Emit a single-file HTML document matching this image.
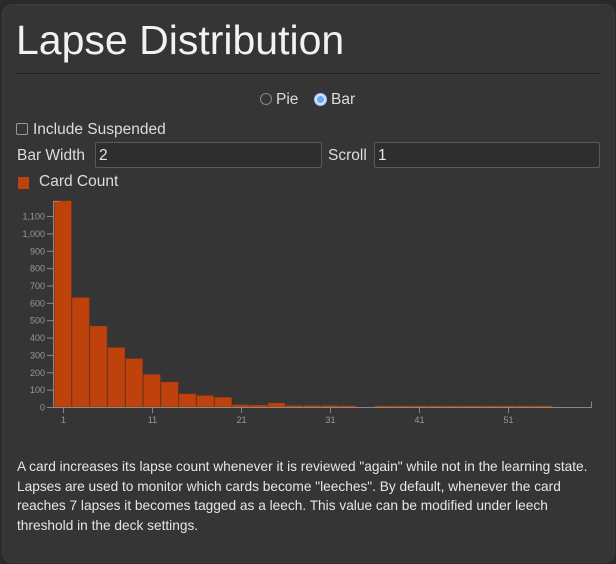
<!DOCTYPE html>
<html><head><meta charset="utf-8"><style>
html,body{margin:0;padding:0;background:#2a2a2a;width:616px;height:564px;overflow:hidden;font-family:"Liberation Sans",sans-serif;color:#ddd}
.panel{position:absolute;left:2px;top:4px;width:611px;height:557px;background:#353535;border-radius:10px;border:1px solid #3c3c3c}
.abs{position:absolute;white-space:nowrap}
.box{position:absolute;border:1px solid #5a5a5a;background:#2e2e2e;border-radius:2px;height:26px;color:#e6e6e6;font-size:15.5px;line-height:26px;padding-left:3px;box-sizing:border-box}
</style></head><body>
<div class="panel"></div>
<div class="abs" style="left:16px;top:17px;font-size:41px;color:#f2f2f2;">Lapse Distribution</div>
<div class="abs" style="left:15px;top:73px;width:585px;height:1px;background:#1f1f1f"></div>

<div class="abs" style="left:260px;top:93px;width:12px;height:12px;border-radius:50%;border:1px solid #888;box-sizing:border-box"></div>
<div class="abs" style="left:276px;top:91px;font-size:15.5px;">Pie</div>
<div class="abs" style="left:314px;top:93px;width:13px;height:13px;border-radius:50%;border:1px solid #9cc3ee;background:#cfe2fa;box-sizing:border-box"><div style="position:absolute;left:2px;top:2px;width:7px;height:7px;border-radius:50%;background:#6aa7f0"></div></div>
<div class="abs" style="left:331px;top:91px;font-size:15.5px;">Bar</div>

<div class="abs" style="left:16px;top:123px;width:12px;height:12px;border:1px solid #999;border-radius:2px;box-sizing:border-box"></div>
<div class="abs" style="left:33px;top:121px;font-size:15.5px;">Include Suspended</div>
<div class="abs" style="left:17px;top:147px;font-size:15.5px;">Bar Width</div>
<div class="box" style="left:95px;top:142px;width:227px;">2</div>
<div class="abs" style="left:328px;top:147px;font-size:15.5px;">Scroll</div>
<div class="box" style="left:374px;top:142px;width:226px;">1</div>
<div class="abs" style="left:18px;top:177px;width:11px;height:12px;background:#bf410b"></div>
<div class="abs" style="left:39px;top:173px;font-size:15.5px;">Card Count</div>

<svg class="abs" style="left:0;top:0" width="616" height="564">
<g fill="#bf410b" stroke="#a8380a" stroke-width="0.5" id="bars"></g>
<g stroke="#888" fill="none" stroke-width="1">
<path d="M59.5,201.5H53.5V407.5H59.5"/>
<path d="M53.5,407.5H591.5V401.5"/>
</g>
<g id="ticks" stroke="#888"></g>
<g id="labels" fill="#999" font-size="9" font-family="Liberation Sans,sans-serif"></g>
</svg>

<div class="abs" style="left:17px;top:457px;font-size:13.7px;line-height:19.5px;color:#e6e6e6;white-space:normal;width:590px">A card increases its lapse count whenever it is reviewed "again" while not in the learning state. Lapses are used to monitor which cards become "leeches". By default, whenever the card reaches 7 lapses it becomes tagged as a leech. This value can be modified under leech threshold in the deck settings.</div>

<script>
var ns="http://www.w3.org/2000/svg";
var vals=[1187,630,465,342,278,187,143,75,65,55,12,10,22,8,8,8,5,0,2,5,2,1,1,1,1,1,1,1];
var b=document.getElementById("bars"),t=document.getElementById("ticks"),l=document.getElementById("labels");
var k=0.1736;
vals.forEach(function(v,i){if(!v)return;var h=Math.max(v*k,1);var r=document.createElementNS(ns,"rect");
r.setAttribute("x",54.5+i*17.8);r.setAttribute("y",407-h);r.setAttribute("width",16.8);r.setAttribute("height",h);b.appendChild(r);});
for(var v=0;v<=1100;v+=100){var y=407.5-v*k;var p=document.createElementNS(ns,"line");p.setAttribute("x1",47);p.setAttribute("x2",53);p.setAttribute("y1",y);p.setAttribute("y2",y);t.appendChild(p);
var s=document.createElementNS(ns,"text");s.setAttribute("x",45);s.setAttribute("y",y+3);s.setAttribute("text-anchor","end");s.textContent=v>=1000?(v/1000|0)+","+String(v%1000).padStart(3,"0"):v;l.appendChild(s);}
[1,11,21,31,41,51].forEach(function(n){var x=63.5+(n-1)*8.9;var p=document.createElementNS(ns,"line");p.setAttribute("x1",x);p.setAttribute("x2",x);p.setAttribute("y1",407);p.setAttribute("y2",413);t.appendChild(p);
var s=document.createElementNS(ns,"text");s.setAttribute("x",x);s.setAttribute("y",423);s.setAttribute("text-anchor","middle");s.textContent=n;l.appendChild(s);});
</script>
</body></html>
